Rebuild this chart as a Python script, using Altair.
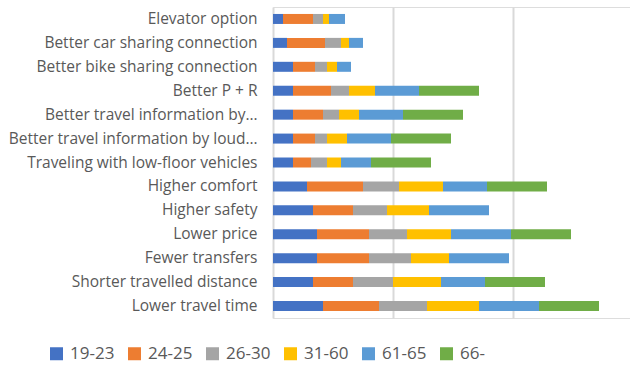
import altair as alt
import pandas as pd

# Improvement categories, top to bottom
categories = [
    "Elevator option",
    "Better car sharing connection",
    "Better bike sharing connection",
    "Better P + R",
    "Better travel information by…",
    "Better travel information by loud…",
    "Traveling with low-floor vehicles",
    "Higher comfort",
    "Higher safety",
    "Lower price",
    "Fewer transfers",
    "Shorter travelled distance",
    "Lower travel time",
]

# Age groups (stack order, left to right)
age_groups = ["19-23", "24-25", "26-30", "31-60", "61-65", "66-"]
colors = ["#4472C4", "#ED7D31", "#A5A5A5", "#FFC000", "#5B9BD5", "#70AD47"]

# Responses per age group, one value per category
age_19_23 = [5, 7, 10, 10, 10, 10, 10, 17, 20, 22, 22, 20, 25]
age_24_25 = [15, 19, 11, 19, 15, 11, 9, 28, 20, 26, 26, 20, 28]
age_26_30 = [5, 8, 6, 9, 8, 6, 8, 18, 17, 19, 21, 20, 24]
age_31_60 = [3, 4, 5, 13, 10, 10, 7, 22, 21, 22, 19, 24, 26]
age_61_65 = [8, 7, 7, 22, 22, 22, 15, 22, 30, 30, 30, 22, 30]
age_66 = [0, 0, 0, 30, 30, 30, 30, 30, 0, 30, 0, 30, 30]

series = [age_19_23, age_24_25, age_26_30, age_31_60, age_61_65, age_66]

rows = []
for gi, (grp, vals) in enumerate(zip(age_groups, series)):
    for cat, v in zip(categories, vals):
        rows.append({"category": cat, "group": grp, "order": gi, "value": v})
df = pd.DataFrame(rows)

chart = (
    alt.Chart(df)
    .mark_bar(size=10)
    .encode(
        y=alt.Y(
            "category:N",
            sort=categories,
            title=None,
            scale=alt.Scale(paddingInner=0.58, paddingOuter=0.29),
            axis=alt.Axis(
                labelFont="Open Sans",
                labelFontSize=15.5,
                labelColor="#595959",
                labelPadding=16,
                ticks=False,
                domain=False,
                labelLimit=300,
            ),
        ),
        x=alt.X(
            "value:Q",
            stack="zero",
            title=None,
            scale=alt.Scale(domain=[0, 178.5], nice=False),
            axis=alt.Axis(
                values=[0, 60, 120],
                labels=False,
                ticks=False,
                domain=False,
                grid=True,
                gridColor="#D9D9D9",
                gridWidth=2,
            ),
        ),
        color=alt.Color(
            "group:N",
            sort=age_groups,
            scale=alt.Scale(domain=age_groups, range=colors),
            legend=alt.Legend(
                title=None,
                orient="none",
                direction="horizontal",
                columns=6,
                legendX=-225,
                legendY=338,
                symbolType="square",
                symbolSize=169,
                symbolStrokeWidth=0,
                symbolOpacity=1,
                labelFont="Open Sans",
                labelFontSize=17,
                labelColor="#595959",
                labelOffset=5,
                columnPadding=11,
            ),
        ),
        order=alt.Order("order:Q", sort="ascending"),
    )
    .properties(
        width=357,
        height=311,
        autosize=alt.AutoSizeParams(type="none"),
        padding={"left": 273, "top": 7, "right": 0, "bottom": 47},
    )
    .configure_view(stroke=None)
    .configure(background="white")
)

chart.save("out.html", embed_options={"renderer": "svg", "actions": False})
